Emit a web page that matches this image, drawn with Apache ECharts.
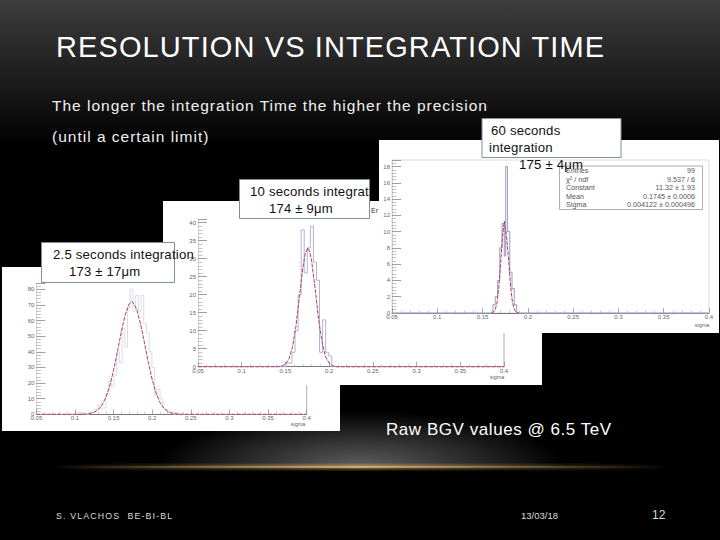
<!DOCTYPE html>
<html><head><meta charset="utf-8">
<style>
html,body{margin:0;padding:0;background:#000;}
#c{width:720px;height:540px;}
text[style*="29px"]{letter-spacing:1.1px;}
text[style*="15.5px"]{letter-spacing:1px;}
text[style*="13.2px"]{letter-spacing:.2px;}
text[style*="13.1px"]{letter-spacing:.2px;}
text[style*="17px"]{letter-spacing:.55px;}
text[style*="8.8px"]{letter-spacing:1.15px;}
</style>
<script src="https://cdn.jsdelivr.net/npm/echarts@6/dist/echarts.min.js"></script>
</head><body><div id="c"></div>
<script>
// ---- data ----
var hist1Edges=[0.05,0.1015,0.105,0.1085,0.112,0.119,0.1225,0.126,0.1295,0.133,0.1365,0.14,0.1435,0.147,0.1505,0.154,0.1575,0.161,0.1645,0.168,0.1715,0.175,0.1785,0.182,0.1855,0.189,0.1925,0.196,0.1995,0.203,0.2065,0.21,0.2135,0.217,0.2205,0.224,0.2275,0.231,0.2345,0.4];
var hist1Counts=[0,1,1,1,0,1,1,3,6,4,4,13,21,18,25,40,33,55,43,68,80,66,76,66,76,58,52,40,30,12,16,10,4,3,1,1,0,1,0,0];
var fit1X=[0.05,0.105,0.11,0.115,0.12,0.125,0.13,0.135,0.14,0.145,0.15,0.155,0.16,0.165,0.17,0.1735,0.175,0.18,0.185,0.19,0.195,0.2,0.205,0.21,0.215,0.22,0.225,0.23,0.235,0.24,0.4];
var fit1Y=[0,0,0.08,0.22,0.57,1.36,2.9,5.9,10.8,18.3,28.2,40.2,52.9,63.7,70.5,72,71.7,67,57.6,45.5,33,22,13.5,7.6,4,1.9,0.8,0.3,0.1,0,0];

var hist2Edges=[0.05,0.1505,0.154,0.1575,0.161,0.1645,0.168,0.1715,0.175,0.1785,0.182,0.1855,0.189,0.1925,0.196,0.1995,0.203,0.4];
var hist2Counts=[0,1,1,4,10,20,38,26,33,39,29,24,4,13,4,3,0,0];
var fit2X=[0.05,0.142,0.146,0.15,0.154,0.158,0.162,0.166,0.17,0.1725,0.1755,0.178,0.18,0.184,0.188,0.192,0.196,0.2,0.204,0.208,0.4];
var fit2Y=[0,0,0.2,0.7,2.1,5.4,11.2,19.4,27.6,31.2,33,31.8,29.3,21.6,13.1,6.7,2.7,1,0.3,0,0];

var hist3Edges=[0.05,0.1615,0.164,0.1665,0.169,0.1715,0.174,0.1755,0.1775,0.18,0.1825,0.185,0.1875,0.4];
var hist3Counts=[0,1,2,4,8,11,7,18,10,5,3,1,0,0];
var fit3X=[0.16,0.162,0.164,0.166,0.168,0.17,0.172,0.174,0.1765,0.179,0.181,0.183,0.185,0.187,0.19];
var fit3Y=[0,0.1,0.45,1.3,3.2,6.2,9.4,11.3,9.4,6.2,3.2,1.3,0.45,0.1,0];

var yTicks1={max:84,interval:10};
var yTicks2={max:41,interval:5};
var yTicks3={max:18.8,interval:2};

var titleText='RESOLUTION VS INTEGRATION TIME';
var bodyLines=['The longer the integration Time the higher the precision','(until a certain limit)'];
var rawText='Raw BGV values @ 6.5 TeV';
var footer=['S. VLACHOS  BE-BI-BL','13/03/18','12'];
var statNames=['Entries','\u03c7\u00b2 / ndf','Constant','Mean','Sigma'];
var statVals=['99','9.537 / 6','11.32 \u00b1 1.93','0.1745 \u00b1 0.0006','0.004122 \u00b1 0.000496'];

function pairs(a,b){return a.map(function(v,i){return [v,b[i]];});}
var FONT='"Liberation Sans",Arial,sans-serif';

// ---- panels: pixel boxes ----
var panels=[
 {rect:[2,267,338,164],grid:{left:36.4,top:283,width:270.3,height:131.3},y:yTicks1,z:10,hist:pairs(hist1Edges,hist1Counts),fit:pairs(fit1X,fit1Y),histCol:'#d2d2e2',histW:0.8,right:true},
 {rect:[163,201,379,184],grid:{left:198,top:219,width:306,height:147.7},y:yTicks2,z:20,hist:pairs(hist2Edges,hist2Counts),fit:pairs(fit2X,fit2Y),histCol:'#b2b4d8',histW:1,right:true},
 {rect:[379,140,340,193],grid:{left:392,top:160,width:317,height:153},y:yTicks3,z:30,hist:pairs(hist3Edges,hist3Counts),fit:pairs(fit3X,fit3Y),histCol:'#a2a4cc',histW:1.1,right:false,border:true}
];

var grids=[],xAxes=[],yAxes=[],series=[],g=[];
function text(t,x,y,size,fill,z,align){
  return {type:'text',z:z,silent:true,style:{text:t,x:x,y:y,fill:fill,align:align||'left',verticalAlign:'middle',font:size+'px '+FONT}};
}
g.push({type:'rect',z:0,silent:true,shape:{x:0,y:0,width:720,height:160},style:{fill:{type:'linear',x:0,y:0,x2:0,y2:1,colorStops:[{offset:0,color:'#3d3d3d'},{offset:0.92,color:'#000'},{offset:1,color:'#000'}]}}});
g.push({type:'ellipse',z:1,silent:true,shape:{cx:360,cy:467,rx:205,ry:56},style:{fill:{type:'radial',x:0.5,y:0.5,r:0.5,colorStops:[{offset:0,color:'rgba(95,95,95,1)'},{offset:1,color:'rgba(95,95,95,0)'}]}}});
g.push({type:'rect',z:2,silent:true,shape:{x:100,y:467,width:520,height:60},style:{fill:'#000'}});
var goldStops=function(a){return {type:'linear',x:0,y:0,x2:1,y2:0,colorStops:[{offset:0,color:'rgba(200,160,90,0)'},{offset:0.25,color:'rgba(200,160,90,'+(a*0.55)+')'},{offset:0.5,color:'rgba(215,175,105,'+a+')'},{offset:0.75,color:'rgba(200,160,90,'+(a*0.5)+')'},{offset:1,color:'rgba(200,160,90,0)'}]};};
g.push({type:'rect',z:3,silent:true,shape:{x:50,y:463.5,width:620,height:7},style:{fill:goldStops(0.3)}});
g.push({type:'rect',z:3,silent:true,shape:{x:50,y:465.7,width:620,height:2.6},style:{fill:goldStops(0.95)}});

panels.forEach(function(p,i){
  g.push({type:'rect',z:p.z,silent:true,shape:{x:p.rect[0],y:p.rect[1],width:p.rect[2],height:p.rect[3]},style:{fill:'#fff'}});
  var gr=Object.assign({},p.grid,{z:p.z+1});
  gr.show=!!p.border; if(p.border){gr.borderColor='#c4c4c4';gr.borderWidth=0.6;gr.backgroundColor='transparent';}
  grids.push(gr);
  xAxes.push({gridIndex:i,type:'value',min:0.05,max:0.4,interval:0.05,z:p.z+1,splitLine:{show:false},
    axisLine:{onZero:false,lineStyle:{color:'#777',width:1}},
    axisTick:{inside:true,length:5,lineStyle:{color:'#888',width:0.7}},
    minorTick:{show:true,splitNumber:5,length:2.5,lineStyle:{color:'#aaa',width:0.6}},
    axisLabel:{fontSize:6,color:'#666',margin:1,fontFamily:FONT,hideOverlap:false,showMinLabel:true,showMaxLabel:true}});
  yAxes.push({gridIndex:i,type:'value',min:0,max:p.y.max,interval:p.y.interval,z:p.z+1,splitLine:{show:false},
    axisLine:{show:true,onZero:false,lineStyle:{color:'#c0c0c0',width:0.7}},
    axisTick:{show:true,inside:true,length:9,lineStyle:{color:'#888',width:0.8}},
    minorTick:{show:true,splitNumber:5,length:4.5,lineStyle:{color:'#aaa',width:0.7}},
    axisLabel:{fontSize:6,color:'#666',margin:2,fontFamily:FONT,showMaxLabel:false}});
  series.push({type:'line',xAxisIndex:i,yAxisIndex:i,z:p.z+2,step:'end',data:p.hist,showSymbol:false,animation:false,silent:true,clip:false,lineStyle:{color:p.histCol,width:p.histW}});
  series.push({type:'line',xAxisIndex:i,yAxisIndex:i,z:p.z+3,data:p.fit,showSymbol:false,animation:false,silent:true,clip:false,lineStyle:{color:'#b5405c',width:1,type:[4,1.2]}});
  if(p.right){
    series.push({type:'line',xAxisIndex:i,yAxisIndex:i,z:p.z+1,data:[[0.4,0],[0.4,p.y.max]],showSymbol:false,animation:false,silent:true,lineStyle:{color:'#999',width:0.8}});
  }
});

// axis names and stat box
g.push(text('sigma',298,424,5.5,'#666',15,'center'));
g.push(text('sigma',497,377,5.5,'#666',25,'center'));
g.push(text('sigma',702,324.5,5.5,'#666',35,'center'));
g.push(text('Er',371,210.5,7,'#333',25));
g.push({type:'rect',z:36,silent:true,shape:{x:559.5,y:166,width:143,height:43.5},style:{fill:'#fff',stroke:'#999',lineWidth:0.8}});
statNames.forEach(function(n,i){
  var y=170.7+i*8.5;
  g.push(text(n,566,y,7.2,'#555',37));
  g.push(text(statVals[i],695,y,7.2,'#555',37,'right'));
});

// callouts
function box(x,y,w,h){return {type:'rect',z:100,silent:true,shape:{x:x,y:y,width:w,height:h},style:{fill:'#fff',stroke:'#7f8f9a',lineWidth:1}};}
g.push(box(41.5,242.5,133,40));
g.push(text('2.5 seconds integration',53,254.5,13.2,'#111',101));
g.push(text('173 \u00b1 17\u03bcm',69,271.5,13.1,'#111',101));
g.push(box(239.5,179.5,130,39));
g.push(text('10 seconds integrati',250,191.5,13.2,'#111',101));
g.push(text('174 \u00b1 9\u03bcm',269,208.5,13.1,'#111',101));
g.push({type:'rect',z:102,silent:true,shape:{x:370,y:178,width:9,height:23},style:{fill:'#000'}});
g.push(box(482,118.5,139,39));
g.push(text('60 seconds',491,130.5,13.2,'#111',101));
g.push(text('integration',489,147,13.2,'#111',101));
g.push(text('175 \u00b1 4\u03bcm',519,164,13.2,'#111',101));

// slide text
g.push(text(titleText,56,47,29,'#fff',200));
g.push(text(bodyLines[0],52,105,15.5,'#f0f0f0',200));
g.push(text(bodyLines[1],52,136,15.5,'#f0f0f0',200));
g.push(text(rawText,386,429,17,'#fff',200));
g.push(text(footer[0],56,515.5,8.8,'#ddd',200));
g.push(text(footer[1],521,515.5,9.5,'#ddd',200));
g.push(text(footer[2],652,515,12,'#ddd',200));

var chart=echarts.init(document.getElementById('c'),null,{renderer:'svg',width:720,height:540});
chart.setOption({backgroundColor:'#000',animation:false,grid:grids,xAxis:xAxes,yAxis:yAxes,series:series,graphic:{elements:g}});
</script></body></html>
